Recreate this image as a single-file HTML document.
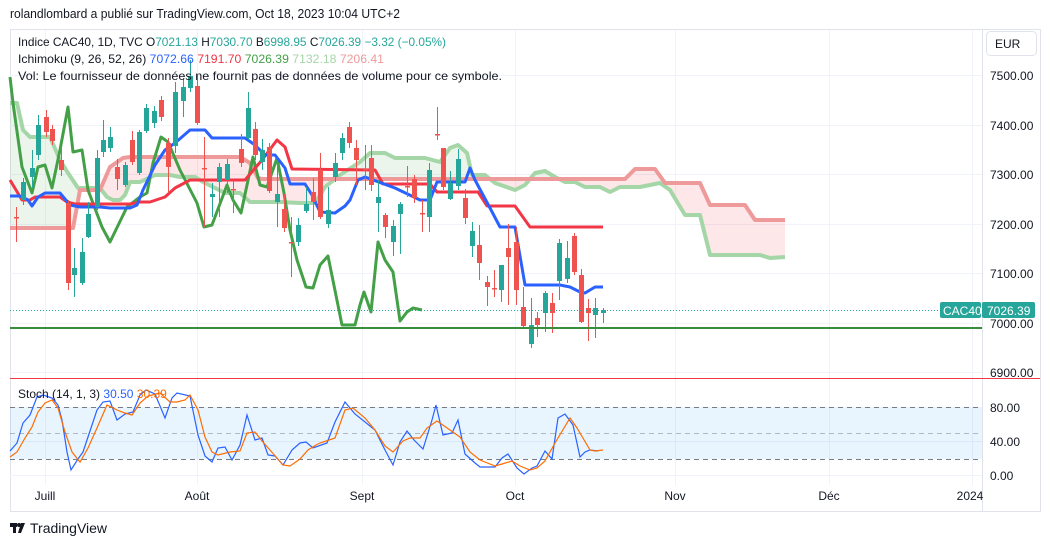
<!DOCTYPE html>
<html><head><meta charset="utf-8"><style>
html,body{margin:0;padding:0;background:#fff;width:1050px;height:547px;overflow:hidden;font-family:"Liberation Sans",sans-serif}
</style></head><body>
<svg id="s" width="1050" height="547" xmlns="http://www.w3.org/2000/svg" font-family="Liberation Sans, sans-serif">
<text x="10" y="18" font-size="13" fill="#131722" textLength="390" lengthAdjust="spacingAndGlyphs">rolandlombard a publié sur TradingView.com, Oct 18, 2023 10:04 UTC+2</text>
<rect x="10.5" y="29.5" width="1030" height="482" fill="none" stroke="#e0e3eb"/>
<g stroke="#f0f3fa" stroke-width="1">
<line x1="10" x2="982" y1="75.5" y2="75.5"/><line x1="10" x2="982" y1="125.5" y2="125.5"/><line x1="10" x2="982" y1="174.5" y2="174.5"/><line x1="10" x2="982" y1="224.5" y2="224.5"/><line x1="10" x2="982" y1="273.5" y2="273.5"/><line x1="10" x2="982" y1="323.5" y2="323.5"/><line x1="10" x2="982" y1="372.5" y2="372.5"/>
<line x1="10" x2="982" y1="441.5" y2="441.5"/><line x1="10" x2="982" y1="475.5" y2="475.5"/>
<line x1="45.5" x2="45.5" y1="30" y2="485"/><line x1="197.5" x2="197.5" y1="30" y2="485"/><line x1="362.5" x2="362.5" y1="30" y2="485"/><line x1="515.5" x2="515.5" y1="30" y2="485"/><line x1="675.5" x2="675.5" y1="30" y2="485"/><line x1="829.5" x2="829.5" y1="30" y2="485"/><line x1="972.5" x2="972.5" y1="30" y2="485"/>
</g>
<line x1="982.5" x2="982.5" y1="30" y2="511" stroke="#e0e3eb"/>
<g id="cloud"></g>
<g id="lines"></g>
<g id="candles"></g>
<line x1="10" x2="982" y1="328" y2="328" stroke="#388e3c" stroke-width="2"/>
<line x1="10" x2="940" y1="310.5" y2="310.5" stroke="#26a69a" stroke-dasharray="1,2"/>
<line x1="10" x2="1040" y1="378.5" y2="378.5" stroke="#f23645" stroke-width="1"/>
<rect x="10" y="407" width="972" height="52" fill="#2196f3" fill-opacity="0.1"/>
<g stroke="#787b86" stroke-dasharray="5,4"><line x1="10" x2="982" y1="407.5" y2="407.5"/><line x1="10" x2="982" y1="459.5" y2="459.5"/><line x1="10" x2="982" y1="433.5" y2="433.5" stroke-opacity="0.5"/></g>
<g id="stoch"></g>
<g font-size="12" fill="#131722">
<text x="990" y="80">7500.00</text><text x="990" y="130">7400.00</text><text x="990" y="179">7300.00</text><text x="990" y="229">7200.00</text><text x="990" y="278">7100.00</text><text x="990" y="328">7000.00</text><text x="990" y="377">6900.00</text>
<text x="990" y="412">80.00</text><text x="990" y="446">40.00</text><text x="990" y="480">0.00</text>
</g>
<rect x="986.5" y="31.5" width="50" height="24" rx="4" fill="#fff" stroke="#e0e3eb"/>
<text x="995" y="48" font-size="12" fill="#131722">EUR</text>
<rect x="940" y="302" width="41" height="16" rx="2" fill="#26a69a"/>
<text x="943" y="315" font-size="12" fill="#fff">CAC40</text>
<rect x="982" y="302" width="53" height="16" rx="2" fill="#26a69a"/>
<text x="987" y="315" font-size="12" fill="#fff">7026.39</text>
<g font-size="12" fill="#131722" text-anchor="middle">
<text x="45" y="500">Juill</text><text x="197" y="500">Août</text><text x="362" y="500">Sept</text><text x="515" y="500">Oct</text><text x="675" y="500">Nov</text><text x="829" y="500">Déc</text><text x="970" y="500">2024</text>
</g>
<rect x="983" y="486" width="56" height="20" fill="#fff"/>
<g font-size="12">
<text x="18" y="46" fill="#131722" textLength="428" lengthAdjust="spacingAndGlyphs">Indice CAC40, 1D, TVC  O<tspan fill="#26a69a">7021.13</tspan>  H<tspan fill="#26a69a">7030.70</tspan>  B<tspan fill="#26a69a">6998.95</tspan>  C<tspan fill="#26a69a">7026.39</tspan>  <tspan fill="#26a69a">−3.32 (−0.05%)</tspan></text>
<text x="18" y="63" fill="#131722" textLength="366" lengthAdjust="spacingAndGlyphs">Ichimoku (9, 26, 52, 26)  <tspan fill="#2962ff">7072.66</tspan>  <tspan fill="#f23645">7191.70</tspan>  <tspan fill="#43a047">7026.39</tspan>  <tspan fill="#a5d6a7">7132.18</tspan>  <tspan fill="#ef9a9a">7206.41</tspan></text>
<text x="18" y="80" fill="#131722" textLength="484" lengthAdjust="spacingAndGlyphs">Vol: Le fournisseur de données ne fournit pas de données de volume pour ce symbole.</text>
<text x="18" y="398" fill="#131722">Stoch (14, 1, 3) <tspan fill="#2962ff">30.50</tspan> <tspan fill="#ff6d00">30.39</tspan></text>
</g>
<g fill="#131722"><rect x="10" y="523" width="7" height="4"/><rect x="13" y="523" width="3" height="10"/><circle cx="19" cy="525" r="2"/><polygon points="21,523 25,523 21,533 18,533"/></g>
<text x="30" y="533" font-size="14" fill="#131722">TradingView</text>
</svg>
<script>
var NS="http://www.w3.org/2000/svg";
function el(p,t,a){var e=document.createElementNS(NS,t);for(var k in a)e.setAttribute(k,a[k]);p.appendChild(e);return e;}
function pts(a){return a.map(function(p){return p[0]+","+p[1]}).join(" ");}
var blue=[[10,196],[20,196],[28,200],[32,206],[38,197],[45,193],[60,193],[70,205],[80,207],[100,207],[110,208],[130,208],[137,205],[143,190],[155,165],[165,150],[175,143],[190,130],[205,130],[212,138],[245,138],[255,145],[265,155],[275,155],[285,168],[290,184],[305,184],[312,195],[320,212],[335,213],[345,206],[350,200],[358,180],[365,177],[395,188],[420,200],[430,200],[437,182],[465,182],[470,168],[475,180],[490,208],[500,227],[515,227],[525,285],[560,285],[570,287],[580,292],[585,293],[595,287],[603,287]];
var red=[[10,180],[22,200],[30,200],[35,197],[60,197],[67,202],[75,204],[130,204],[140,202],[150,202],[165,197],[175,188],[190,180],[245,180],[262,160],[277,140],[285,147],[292,169],[375,170],[383,184],[430,184],[437,192],[478,192],[487,206],[515,206],[530,227],[603,227]];
var lag=[[10,77],[13,103],[22,167],[32,193],[38,167],[45,165],[52,188],[60,150],[68,107],[73,152],[82,150],[88,190],[102,227],[110,242],[127,207],[140,197],[147,193],[153,163],[161,137],[168,142],[180,170],[197,203],[204,227],[212,225],[227,185],[233,200],[241,213],[253,157],[260,185],[267,187],[277,158],[284,193],[290,230],[297,260],[306,287],[313,288],[320,265],[328,256],[342,325],[355,325],[360,305],[364,292],[371,312],[378,242],[385,260],[393,272],[400,321],[407,312],[413,308],[422,310]];
var A=[[10,103],[17,103],[23,130],[30,137],[50,137],[60,160],[68,173],[78,188],[100,188],[107,197],[113,200],[120,200],[125,195],[130,182],[140,182],[155,175],[170,175],[180,177],[195,177],[205,183],[225,193],[240,193],[250,202],[280,202],[300,203],[315,203],[325,187],[340,175],[360,162],[370,153],[385,153],[395,158],[425,158],[440,162],[450,148],[458,145],[467,153],[472,175],[485,175],[495,183],[515,190],[525,185],[535,173],[545,171],[555,177],[565,182],[575,182],[585,187],[600,187],[610,192],[620,187],[640,187],[660,183],[670,190],[685,215],[700,215],[710,255],[760,255],[770,258],[785,257]];
var B=[[10,228],[73,228],[80,190],[100,190],[110,167],[123,158],[130,157],[240,157],[250,163],[258,178],[262,179],[625,179],[635,169],[655,169],[665,183],[700,183],[710,205],[745,205],[755,220],[785,220]];
function interp(a,x){for(var i=0;i<a.length-1;i++){if(x>=a[i][0]&&x<=a[i+1][0]){var t=(x-a[i][0])/((a[i+1][0]-a[i][0])||1);return a[i][1]+t*(a[i+1][1]-a[i][1]);}}return a[a.length-1][1];}
var Ai=[],Bi=[];for(var x=10;x<=785;x++){Ai.push([x,interp(A,x)]);Bi.push([x,interp(B,x)]);}
var svg=document.getElementById("s");var defs=el(svg,"defs",{});
var cA=el(defs,"clipPath",{id:"belowA"});el(cA,"polygon",{points:pts(Ai.concat([[785,600],[10,600]]))});
var cB=el(defs,"clipPath",{id:"belowB"});el(cB,"polygon",{points:pts(Bi.concat([[785,600],[10,600]]))});
var between=pts(Ai.concat(Bi.slice().reverse()));
var cl=document.getElementById("cloud");
el(cl,"polygon",{points:between,fill:"#43a047","fill-opacity":"0.1","clip-path":"url(#belowA)"});
el(cl,"polygon",{points:between,fill:"#f23645","fill-opacity":"0.12","clip-path":"url(#belowB)"});
var L=document.getElementById("lines");
function pl(a,c,w){el(L,"polyline",{points:pts(a),fill:"none",stroke:c,"stroke-width":w,"stroke-linejoin":"round"});}
pl(A,"#a5d6a7",4);pl(B,"#ef9a9a",4);pl(lag,"#43a047",3);pl(red,"#f23645",3);pl(blue,"#2962ff",3);
var C=[[16,217,217,207,242],[23,200,182,178,205],[32,177,168,150,188],[38,155,125,115,160],[46,117,132,110,137],[52,129,141,125,145],[61,160,170,148,176],[68,203,283,200,290],[74,275,268,248,297],[82,283,252,238,285],[88,237,214,202,238],[97,207,158,150,210],[103,152,140,120,157],[110,148,137,127,152],[117,167,179,159,190],[125,185,165,162,187],[132,140,162,131,165],[139,173,132,130,175],[146,131,108,104,133],[154,123,111,106,128],[161,100,117,96,121],[168,143,167,138,193],[175,146,92,82,153],[183,101,87,78,117],[190,88,76,60,92],[197,86,123,75,125],[204,168,168,137,227],[212,197,194,183,217],[219,182,167,163,217],[227,180,164,159,193],[233,189,189,180,213],[241,149,163,134,167],[248,138,108,92,140],[255,129,155,122,160],[262,162,150,139,170],[269,147,191,143,193],[277,202,194,160,227],[284,209,228,194,232],[291,242,242,217,277],[298,242,225,218,246],[306,211,204,187,213],[313,192,202,178,220],[320,171,217,153,219],[328,224,210,187,228],[335,177,163,153,182],[342,153,138,133,160],[349,127,143,122,148],[356,148,160,140,185],[365,169,169,145,190],[371,158,185,145,191],[378,203,197,180,232],[385,215,227,213,238],[393,242,226,220,256],[400,214,204,202,254],[407,186,186,166,197],[414,179,198,175,203],[422,213,213,200,232],[429,217,170,163,232],[437,134,134,107,140],[443,148,187,148,190],[450,199,183,171,200],[458,186,159,149,190],[465,198,218,189,224],[472,246,231,222,257],[479,245,263,225,280],[487,282,287,276,306],[494,288,288,270,297],[501,290,265,265,302],[508,248,257,224,305],[516,242,290,227,305],[523,307,326,287,328],[531,344,325,298,348],[537,318,325,312,337],[545,313,293,291,332],[552,303,313,293,333],[559,281,243,239,300],[567,279,258,241,283],[574,236,272,233,275],[581,275,322,269,323],[588,308,313,299,341],[595,315,308,298,338],[603,313,310,308,323]];
var G=document.getElementById("candles");
C.forEach(function(c){var up=c[2]<c[1];var col=up?"#26a69a":"#ef5350";var top=Math.min(c[1],c[2]),bot=Math.max(c[1],c[2]);
el(G,"line",{x1:c[0]+0.5,x2:c[0]+0.5,y1:c[3],y2:c[4],stroke:col,"stroke-width":1});
el(G,"rect",{x:c[0]-2,y:top,width:5,height:Math.max(bot-top,1.5),fill:col});});
var kb=[[10,451],[17,443],[23,423],[30,415],[37,397],[43,395],[52,398],[58,405],[62,420],[67,452],[71,470],[78,459],[83,452],[88,437],[97,410],[103,402],[110,401],[117,420],[125,414],[133,412],[140,395],[146,390],[155,394],[165,418],[172,398],[177,393],[190,396],[198,435],[205,456],[212,462],[218,448],[225,447],[232,460],[240,445],[247,415],[255,440],[262,438],[268,455],[275,456],[283,465],[292,450],[300,443],[306,442],[313,448],[327,443],[335,422],[345,402],[355,414],[375,430],[385,450],[393,465],[400,442],[407,431],[414,440],[423,449],[432,420],[436,405],[443,435],[452,433],[458,420],[465,454],[475,463],[480,467],[495,467],[502,458],[508,454],[517,468],[524,474],[532,468],[537,466],[545,451],[552,459],[558,418],[565,414],[573,425],[580,457],[585,452],[590,450],[598,451]];
var kd=[[10,457],[17,452],[25,438],[32,427],[38,412],[45,403],[52,400],[58,408],[65,432],[72,452],[80,462],[88,448],[97,428],[107,405],[117,410],[125,413],[132,415],[140,403],[148,396],[160,393],[170,402],[177,402],[185,400],[190,395],[198,410],[205,437],[212,452],[218,455],[230,452],[240,451],[247,433],[255,432],[262,441],[270,450],[283,465],[290,466],[300,459],[308,450],[316,445],[320,443],[335,438],[345,410],[353,408],[365,418],[375,430],[385,446],[393,452],[403,441],[410,438],[420,438],[427,428],[437,421],[450,430],[460,437],[470,452],[480,460],[495,466],[502,464],[512,461],[520,466],[530,470],[537,468],[545,461],[555,443],[570,418],[577,428],[590,450],[595,451],[603,450]];
var S=document.getElementById("stoch");
el(S,"polyline",{points:pts(kb),fill:"none",stroke:"#2962ff","stroke-width":1.2});
el(S,"polyline",{points:pts(kd),fill:"none",stroke:"#ff6d00","stroke-width":1.2});
</script>
</body></html>
